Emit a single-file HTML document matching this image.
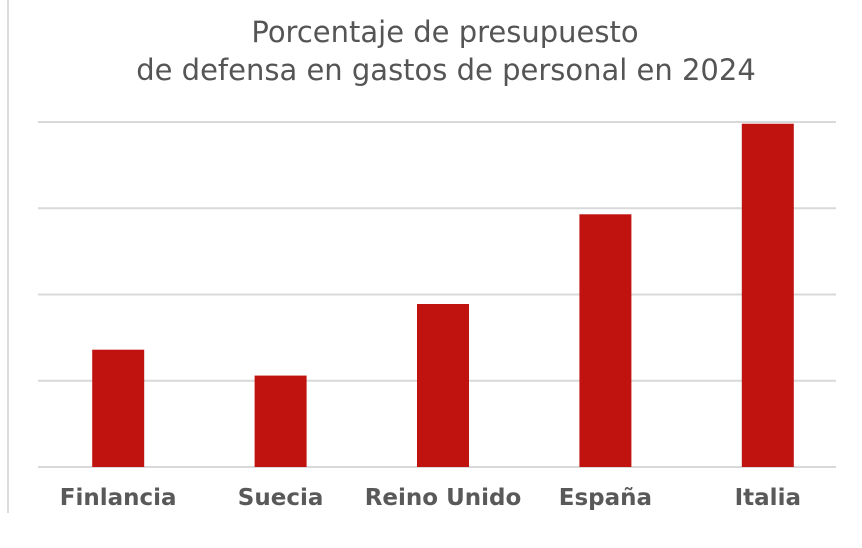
<!DOCTYPE html>
<html><head><meta charset="utf-8"><style>
body{margin:0;background:#fff;width:862px;height:544px;overflow:hidden;font-family:"DejaVu Sans","Liberation Sans",sans-serif}
</style></head><body>
<svg id="chart" width="862" height="544" xmlns="http://www.w3.org/2000/svg">
<line x1="8" y1="0" x2="8" y2="513" stroke="#d0d0d0" stroke-width="1.5"/>
<text x="445" y="42" text-anchor="middle" font-size="29" fill="#555">Porcentaje de presupuesto</text>
<text x="446" y="80" text-anchor="middle" font-size="29" fill="#555">de defensa en gastos de personal en 2024</text>
<g id="grid"></g><g id="bars"></g><g id="labels"></g>
</svg>
<script>
const categories=["Finlancia","Suecia","Reino Unido","España","Italia"];
const values=[13.6,10.6,18.9,29.3,39.8];
const gridTicks=[0,10,20,30,40];
const x0=37,x1=849,yBase=467,yTop=122,maxV=40;
const band=(x1-x0)/categories.length,barW=52;
const y=v=>yBase-(v/maxV)*(yBase-yTop);
const xc=i=>x0+band*(i+0.5);
const NS="http://www.w3.org/2000/svg";
const g=document.getElementById('grid'),b=document.getElementById('bars'),l=document.getElementById('labels');
gridTicks.forEach(t=>{
 const ln=document.createElementNS(NS,'line');
 ln.setAttribute('x1',38);ln.setAttribute('x2',836);ln.setAttribute('y1',y(t));ln.setAttribute('y2',y(t));
 ln.setAttribute('stroke','#d9d9d9');ln.setAttribute('stroke-width','2');
 
 
 g.appendChild(ln);
});
values.forEach((v,i)=>{
 const r=document.createElementNS(NS,'rect');
 r.setAttribute('x',xc(i)-barW/2);r.setAttribute('width',barW);
 r.setAttribute('y',y(v));r.setAttribute('height',yBase-y(v));r.setAttribute('fill','#c0130f');
 
 
 b.appendChild(r);
 const t=document.createElementNS(NS,'text');
 t.setAttribute('x',xc(i));t.setAttribute('y',505);t.setAttribute('text-anchor','middle');
 t.setAttribute('font-size','23');t.setAttribute('font-weight','bold');t.setAttribute('fill','#595959');
 t.textContent=categories[i];
 
 
 l.appendChild(t);
});
</script>
</body></html>
